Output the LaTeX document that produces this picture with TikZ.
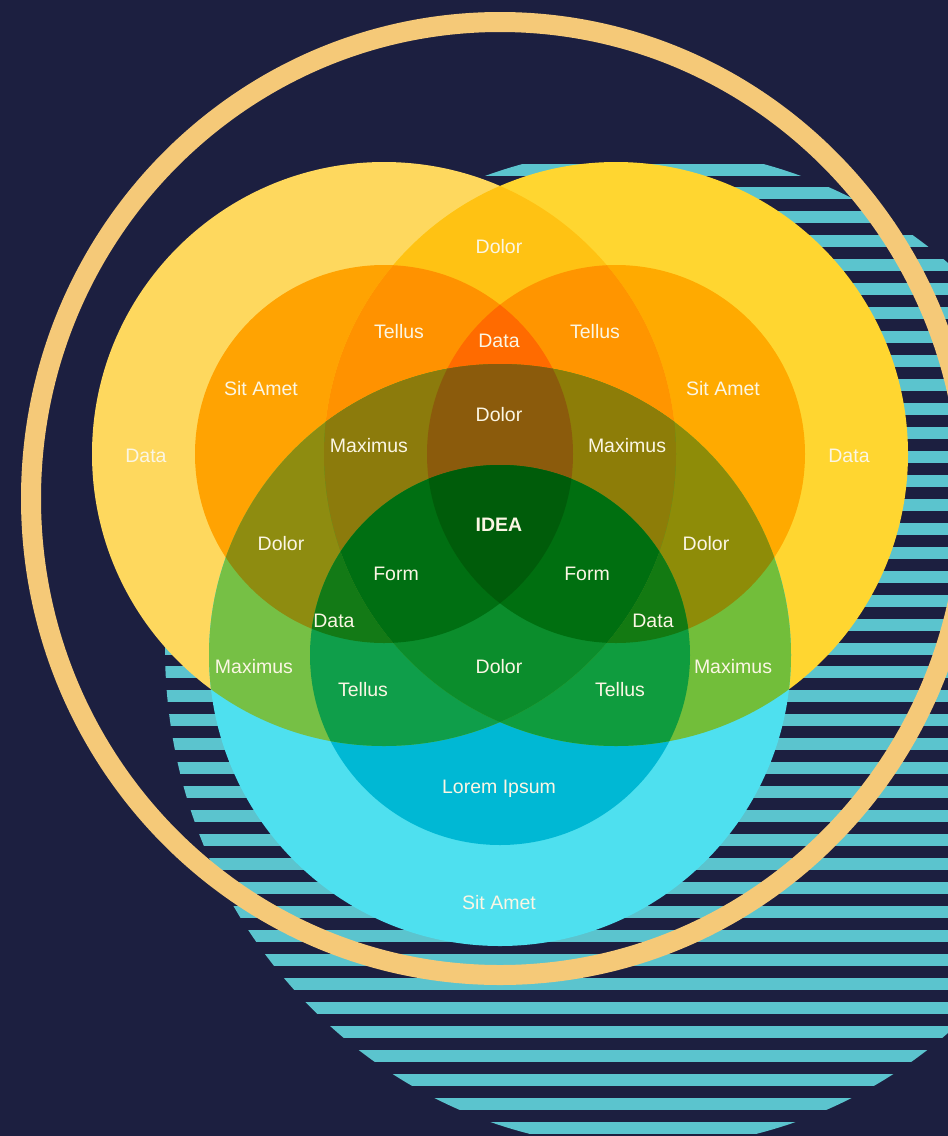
\documentclass[tikz,border=0pt]{standalone}
\usepackage{fontspec}
\setmainfont{Liberation Sans}
\definecolor{bg}{HTML}{1C1F40}
\definecolor{ringc}{HTML}{F5C978}
\definecolor{stripec}{HTML}{5BC4CE}
\definecolor{labc}{HTML}{FBF6E4}
\def\LYc{(384,454) circle[radius=292pt]}
\def\LOc{(384,454) circle[radius=189pt]}
\def\RYc{(616,454) circle[radius=292pt]}
\def\ROc{(616,454) circle[radius=189pt]}
\def\BCc{(500,655) circle[radius=291pt]}
\def\BIc{(500,655) circle[radius=190pt]}
\newcommand\myclipL[1]{\ifnum#1=1 \clip \LYc;\fi\ifnum#1=2 \clip \LOc;\fi}
\newcommand\myclipR[1]{\ifnum#1=1 \clip \RYc;\fi\ifnum#1=2 \clip \ROc;\fi}
\newcommand\myclipB[1]{\ifnum#1=1 \clip \BCc;\fi\ifnum#1=2 \clip \BIc;\fi}
\newcommand\rg[4]{\definecolor{regc}{HTML}{#4}\begin{scope}\myclipL{#1}\myclipR{#2}\myclipB{#3}\fill[regc] (0,0) rectangle (948,1136);\end{scope}}
\tikzset{lab/.style={font=\fontsize{19.5}{23}\selectfont, text=labc, inner sep=0pt}}
\begin{document}
\begin{tikzpicture}[x=1pt,y=-1pt]
\useasboundingbox (0,0) rectangle (948,1136);
\fill[bg] (0,0) rectangle (948,1136);
% stripes
\begin{scope}
\clip (643,648) ellipse[x radius=478pt, y radius=500pt];
\foreach \k in {0,...,41}{
  \fill[stripec] (0,{163.5+23.95*\k}) rectangle (948,{175.5+23.95*\k});
}
\end{scope}
% regions (painted by increasing depth)
\rg100{FED85E}\rg010{FFD630}\rg001{4EE0EF}
\rg200{FFA302}\rg020{FFAA00}\rg002{00B8D4}\rg110{FFC213}\rg101{76C045}\rg011{72BE3A}
\rg210{FF9200}\rg120{FF9500}\rg201{8E8C10}\rg102{0F9E4A}\rg021{8E8C08}\rg012{0F9C3E}\rg111{4AA02A}
\rg220{FF6B00}\rg202{137A16}\rg022{137A12}\rg211{8C7B0C}\rg121{8D7D08}\rg112{0B8D2C}
\rg221{8B5B0C}\rg212{006F12}\rg122{006F10}
\rg222{005C0A}
% ring
\draw[ringc, line width=20pt] (500,498.5) ellipse[x radius=469pt, y radius=476.5pt];
% labels
\node[lab] (dolorTop) at (499,247) {Dolor};
\node[lab] (tellusTL) at (399,332) {Tellus};
\node[lab] (dataTop) at (499,341) {Data};
\node[lab] (tellusTR) at (595,332) {Tellus};
\node[lab] (sitL) at (261,389) {Sit Amet};
\node[lab] (sitR) at (723,389) {Sit Amet};
\node[lab] (dataL) at (146,456) {Data};
\node[lab] (dataR) at (849,456) {Data};
\node[lab] (dolorMid) at (499,415) {Dolor};
\node[lab] (maxTL) at (369,446) {Maximus};
\node[lab] (maxTR) at (627,446) {Maximus};
\node[lab, font=\fontsize{19.5}{23}\selectfont\bfseries] (idea) at (499,525) {IDEA};
\node[lab] (dolorL) at (281,544) {Dolor};
\node[lab] (dolorR) at (706,544) {Dolor};
\node[lab] (formL) at (396,574) {Form};
\node[lab] (formR) at (587,574) {Form};
\node[lab] (dataBL) at (334,621) {Data};
\node[lab] (dataBR) at (653,621) {Data};
\node[lab] (maxBL) at (254,667) {Maximus};
\node[lab] (maxBR) at (733,667) {Maximus};
\node[lab] (dolorBot) at (499,667) {Dolor};
\node[lab] (tellusBL) at (363,690) {Tellus};
\node[lab] (tellusBR) at (620,690) {Tellus};
\node[lab] (lorem) at (499,789) {Lorem Ipsum};
\node[lab] (sitB) at (499,903) {Sit Amet};
\end{tikzpicture}
\end{document}
